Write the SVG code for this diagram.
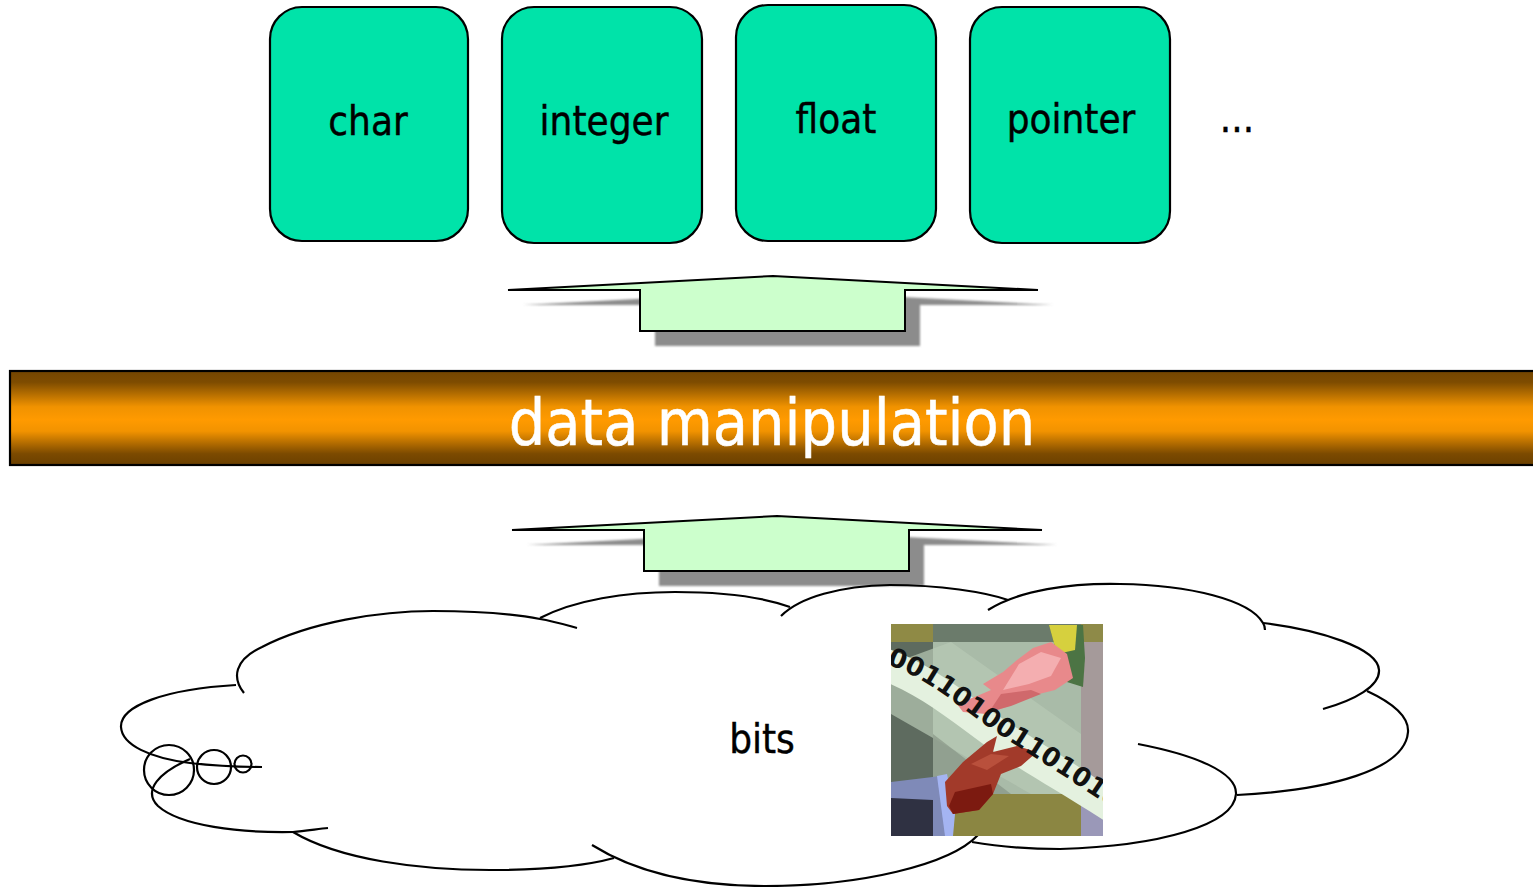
<svg xmlns="http://www.w3.org/2000/svg" width="1533" height="887" viewBox="0 0 1533 887">
  <style>
    .type rect { fill: #00e3a9; stroke: #000; stroke-width: 2.2; }
    .label { font-family: "DejaVu Sans Condensed", "DejaVu Sans", sans-serif; font-stretch: condensed; fill: #000; stroke: #000; stroke-width: 0.4; }
    .big { font-size: 40px; text-anchor: middle; }
    .arrow { fill: #ccffcc; stroke: #000; stroke-width: 2; stroke-linejoin: miter; }
    .shadow { fill: #8c8c8c; }
    .cloud path, .cloud circle { fill: none; stroke: #000; stroke-width: 2.2; stroke-linecap: butt; }
    .digits { font-family: "DejaVu Sans", sans-serif; font-weight: bold; fill: #111; }
  </style>
  <defs>
    <linearGradient id="barShade" x1="0" y1="0" x2="0" y2="1">
      <stop offset="0" stop-color="#744500"/>
      <stop offset="0.12" stop-color="#7e4c00"/>
      <stop offset="0.38" stop-color="#f09200"/>
      <stop offset="0.52" stop-color="#ff9a00"/>
      <stop offset="0.64" stop-color="#f29300"/>
      <stop offset="0.88" stop-color="#7c4a00"/>
      <stop offset="1" stop-color="#6b4000"/>
    </linearGradient>
    <filter id="soft" x="-5%" y="-20%" width="110%" height="140%">
      <feGaussianBlur stdDeviation="0.9"/>
    </filter>
    <clipPath id="artClip">
      <rect x="0" y="0" width="212" height="212"/>
    </clipPath>
    <path id="ribbon" d="M-5,40 C30,52 55,72 85,94 C120,120 160,142 225,187"/>
    <!-- block arrow pointing up, shared by both levels -->
    <polygon id="upArrow" points="0,14 265,0 530,14 397,14 397,55 132,55 132,14"/>
  </defs>

  <!-- data type boxes -->
  <g id="node-char" class="type">
    <rect x="270" y="7" width="198" height="234" rx="32"/>
    <text class="label big" x="368" y="135">char</text>
  </g>
  <g id="node-integer" class="type">
    <rect x="502" y="7" width="200" height="236" rx="32"/>
    <text class="label big" x="604" y="135">integer</text>
  </g>
  <g id="node-float" class="type">
    <rect x="736" y="5" width="200" height="236" rx="32"/>
    <text class="label big" x="836" y="133">float</text>
  </g>
  <g id="node-pointer" class="type">
    <rect x="970" y="7" width="200" height="236" rx="32"/>
    <text class="label big" x="1071" y="133">pointer</text>
  </g>
  <g id="node-more">
    <text class="label big" x="1237" y="132">...</text>
  </g>

  <!-- connectors: up arrows with drop shadows -->
  <g id="connectors">
    <g id="arrow-types">
      <use href="#upArrow" class="shadow" x="523" y="291" filter="url(#soft)"/>
      <use href="#upArrow" class="arrow" x="508" y="276"/>
    </g>
    <g id="arrow-bits">
      <use href="#upArrow" class="shadow" x="527" y="531" filter="url(#soft)"/>
      <use href="#upArrow" class="arrow" x="512" y="516"/>
    </g>
  </g>

  <!-- middle layer bar -->
  <g id="node-data-manipulation">
    <rect x="10" y="371" width="1540" height="94" fill="url(#barShade)" stroke="#000" stroke-width="2.2"/>
    <text x="772" y="445" text-anchor="middle" font-family="DejaVu Sans Condensed, DejaVu Sans, sans-serif" font-stretch="condensed" font-size="64" fill="#fff" stroke="#fff" stroke-width="0.5">data manipulation</text>
  </g>

  <!-- bits cloud -->
  <g id="node-bits">
    <g class="cloud">
      <path d="M236,685 C165,689 120,706 121,727 C122,745 150,758 190,763 C215,766 240,767 262,767"/>
      <path d="M244,693 C232,678 234,660 262,647 C310,622 380,611 433,611 C475,611 515,614 540,619 C553,621 566,625 577,628"/>
      <path d="M540,618 C575,600 625,592 675,592 C725,592 765,598 790,607"/>
      <path d="M781,616 C800,597 840,586 890,585 C940,585 985,592 1008,600"/>
      <path d="M988,610 C1020,590 1070,583 1120,584 C1190,585 1250,600 1263,623 C1265,626 1265,628 1265,630"/>
      <path d="M1263,623 C1320,630 1378,648 1379,670 C1380,686 1355,700 1323,709"/>
      <path d="M1367,691 C1395,704 1409,718 1408,732 C1405,770 1330,790 1237,795"/>
      <path d="M1138,744 C1195,755 1237,772 1236,794 C1234,825 1160,846 1060,849 C1030,849 1000,847 972,842"/>
      <path d="M592,845 C640,875 700,886 765,886 C860,886 950,865 978,835"/>
      <path d="M293,832 C340,860 420,870 490,870 C540,870 585,866 614,858"/>
      <path d="M190,759 C160,772 142,790 158,806 C180,826 240,833 293,832 C305,831 318,829 328,828"/>
      <circle cx="169" cy="770" r="25"/>
      <circle cx="214" cy="767" r="17"/>
      <circle cx="243" cy="764" r="8.5"/>
    </g>
    <text class="label big" x="762" y="753">bits</text>

    <!-- clip art: two hands passing a strip of binary digits -->
    <g id="bits-art" transform="translate(891,624)" clip-path="url(#artClip)">
      <rect x="0" y="0" width="212" height="212" fill="#a9bba8"/>
      <!-- frame tiles -->
      <rect x="0" y="0" width="42" height="18" fill="#8f8a45"/>
      <rect x="42" y="0" width="150" height="18" fill="#6b7b6b"/>
      <rect x="190" y="0" width="22" height="18" fill="#8e8a48"/>
      <rect x="0" y="18" width="42" height="152" fill="#5e6b5f"/>
      <rect x="190" y="18" width="22" height="152" fill="#a59a9a"/>
      <rect x="0" y="170" width="42" height="42" fill="#2f3142"/>
      <rect x="42" y="170" width="148" height="42" fill="#8b8642"/>
      <rect x="190" y="170" width="22" height="42" fill="#9a98b8"/>
      <!-- diagonal light sweep -->
      <polygon points="0,40 60,18 190,110 190,170 140,170 0,90" fill="#b8c9b5" opacity="0.7"/>
      <polygon points="42,110 42,170 120,170" fill="#7d8a7c" opacity="0.55"/>
      <!-- ribbon -->
      <path d="M-5,24 C30,36 58,56 88,78 C122,104 165,126 225,168 L225,204 C160,162 118,140 84,114 C52,90 28,72 -5,58 Z" fill="#e4f1df"/>
      <!-- upper hand with green sleeve -->
      <polygon points="158,1 192,1 194,34 192,63 176,58 166,30" fill="#4c7444"/>
      <polygon points="158,1 186,1 184,26 166,30" fill="#d6d03e"/>
      <polygon points="160,18 176,30 182,54 164,66 140,72 118,82 95,90 72,88 66,80 86,72 100,66 92,60 112,48 126,36 142,24" fill="#e8898b"/>
      <polygon points="128,40 150,28 170,34 160,52 138,60 112,66" fill="#f4aeb0"/>
      <polygon points="110,70 140,66 150,70 120,82 98,88" fill="#d0696c"/>
      <!-- lower hand with blue sleeve -->
      <polygon points="0,158 50,152 60,176 62,212 42,212 42,176 0,174" fill="#7f8ab8"/>
      <polygon points="46,152 56,150 64,190 62,212 54,212" fill="#a4b4f2"/>
      <polygon points="54,158 72,138 96,118 106,112 102,128 126,122 146,128 130,142 110,150 102,170 88,186 62,190 56,182" fill="#a23a2a"/>
      <polygon points="64,168 100,160 102,170 88,186 62,190 58,182" fill="#7c1a10"/>
      <polygon points="80,140 100,130 118,132 96,146" fill="#b9503c"/>
      <!-- binary digits printed along the ribbon -->
      <text class="digits" font-size="26"><textPath href="#ribbon" startOffset="0">0011010011010101101010110</textPath></text>
    </g>
  </g>
</svg>
